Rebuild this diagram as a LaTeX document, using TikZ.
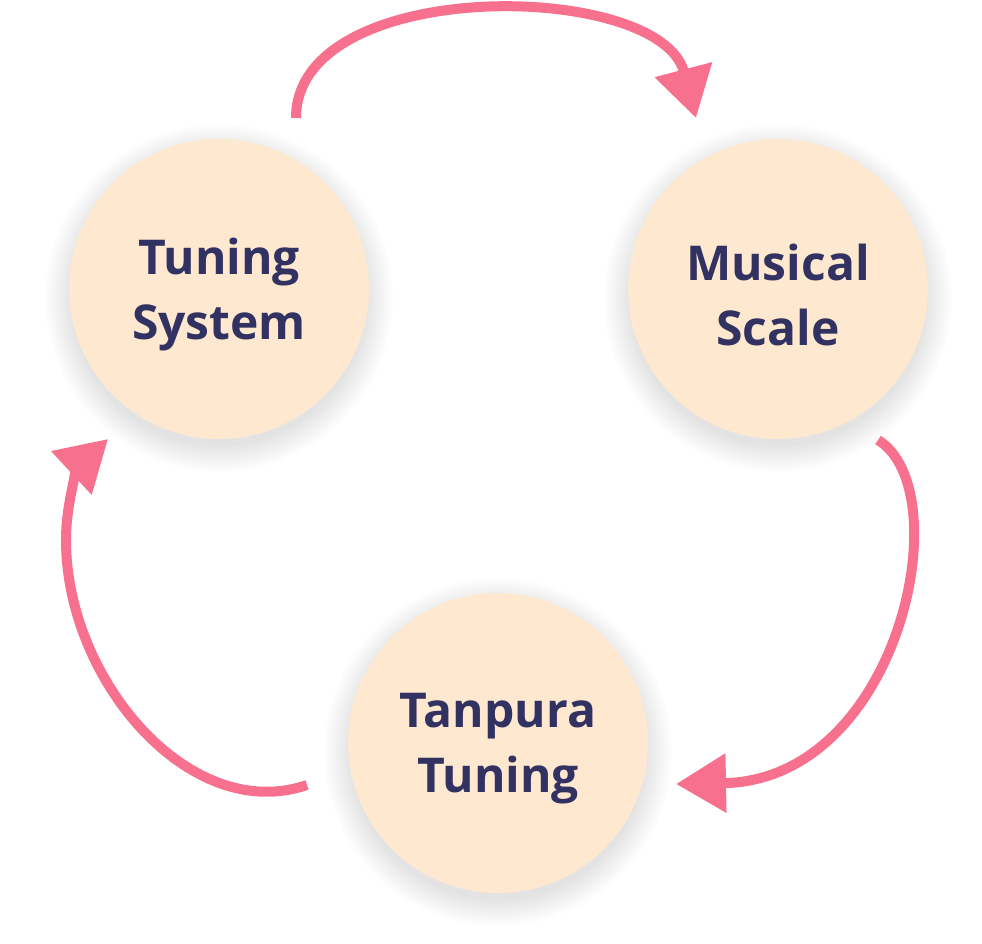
\documentclass[tikz,border=0pt]{standalone}
\usepackage{fontspec}
\setmainfont{Open Sans}
\usetikzlibrary{arrows.meta,calc}
\definecolor{pinkarrow}{HTML}{F7718F}
\definecolor{bubblefill}{HTML}{FEE8CF}
\definecolor{bubbletext}{HTML}{323262}
\tikzset{
  bubble/.style={circle,fill=bubblefill,minimum size=300pt,inner sep=0pt},
  bubbletxt/.style={align=center,text=bubbletext,inner sep=0pt,
    font=\bfseries\fontsize{48}{65}\selectfont},
  cyclearrow/.style={draw=pinkarrow,line width=10pt,
    -{Triangle[length=50pt,width=57pt]}},
}
\begin{document}
\begin{tikzpicture}[x=1pt,y=-1pt]
\useasboundingbox (0,0) rectangle (982,944);
% soft shadows
\foreach \cx/\cy in {219/289,778/289,498/743}{
  \foreach \r in {0,2,...,26}{
    \fill[black,opacity=0.009] (\cx,\cy+9) circle[radius={148pt+\r pt}];
  }
}
\node[bubble] (ts) at (219,289) {};
\node[bubble] (ms) at (778,289) {};
\node[bubble] (tt) at (498,743) {};
\node[bubbletxt] (tst) at ($(ts)+(0,6)$) {Tuning\\System};
\node[bubbletxt] (mst) at ($(ms)+(0,6)$) {Musical\\Scale};
\node[bubbletxt] (ttt) at ($(tt)+(0,6)$) {Tanpura\\Tuning};
\coordinate (a1s) at ($(ts)+(77,-171)$);
\coordinate (a1e) at ($(ms)+(-82,-171)$);
\coordinate (a2s) at ($(ms)+(100,151)$);
\coordinate (a2e) at ($(tt)+(178,41)$);
\coordinate (a3s) at ($(tt)+(-191,42)$);
\coordinate (a3e) at ($(ts)+(-111,150)$);
\draw[cyclearrow] (a1s) .. controls (296,-25) and (660,-20) .. (a1e);
\draw[cyclearrow] (a2s) .. controls (960,490) and (900,780) .. (a2e);
\draw[cyclearrow] (a3s) .. controls (190,825) and (66,680) .. (66,540)
  .. controls (66,500) and (80,465) .. (a3e);
\end{tikzpicture}
\end{document}
